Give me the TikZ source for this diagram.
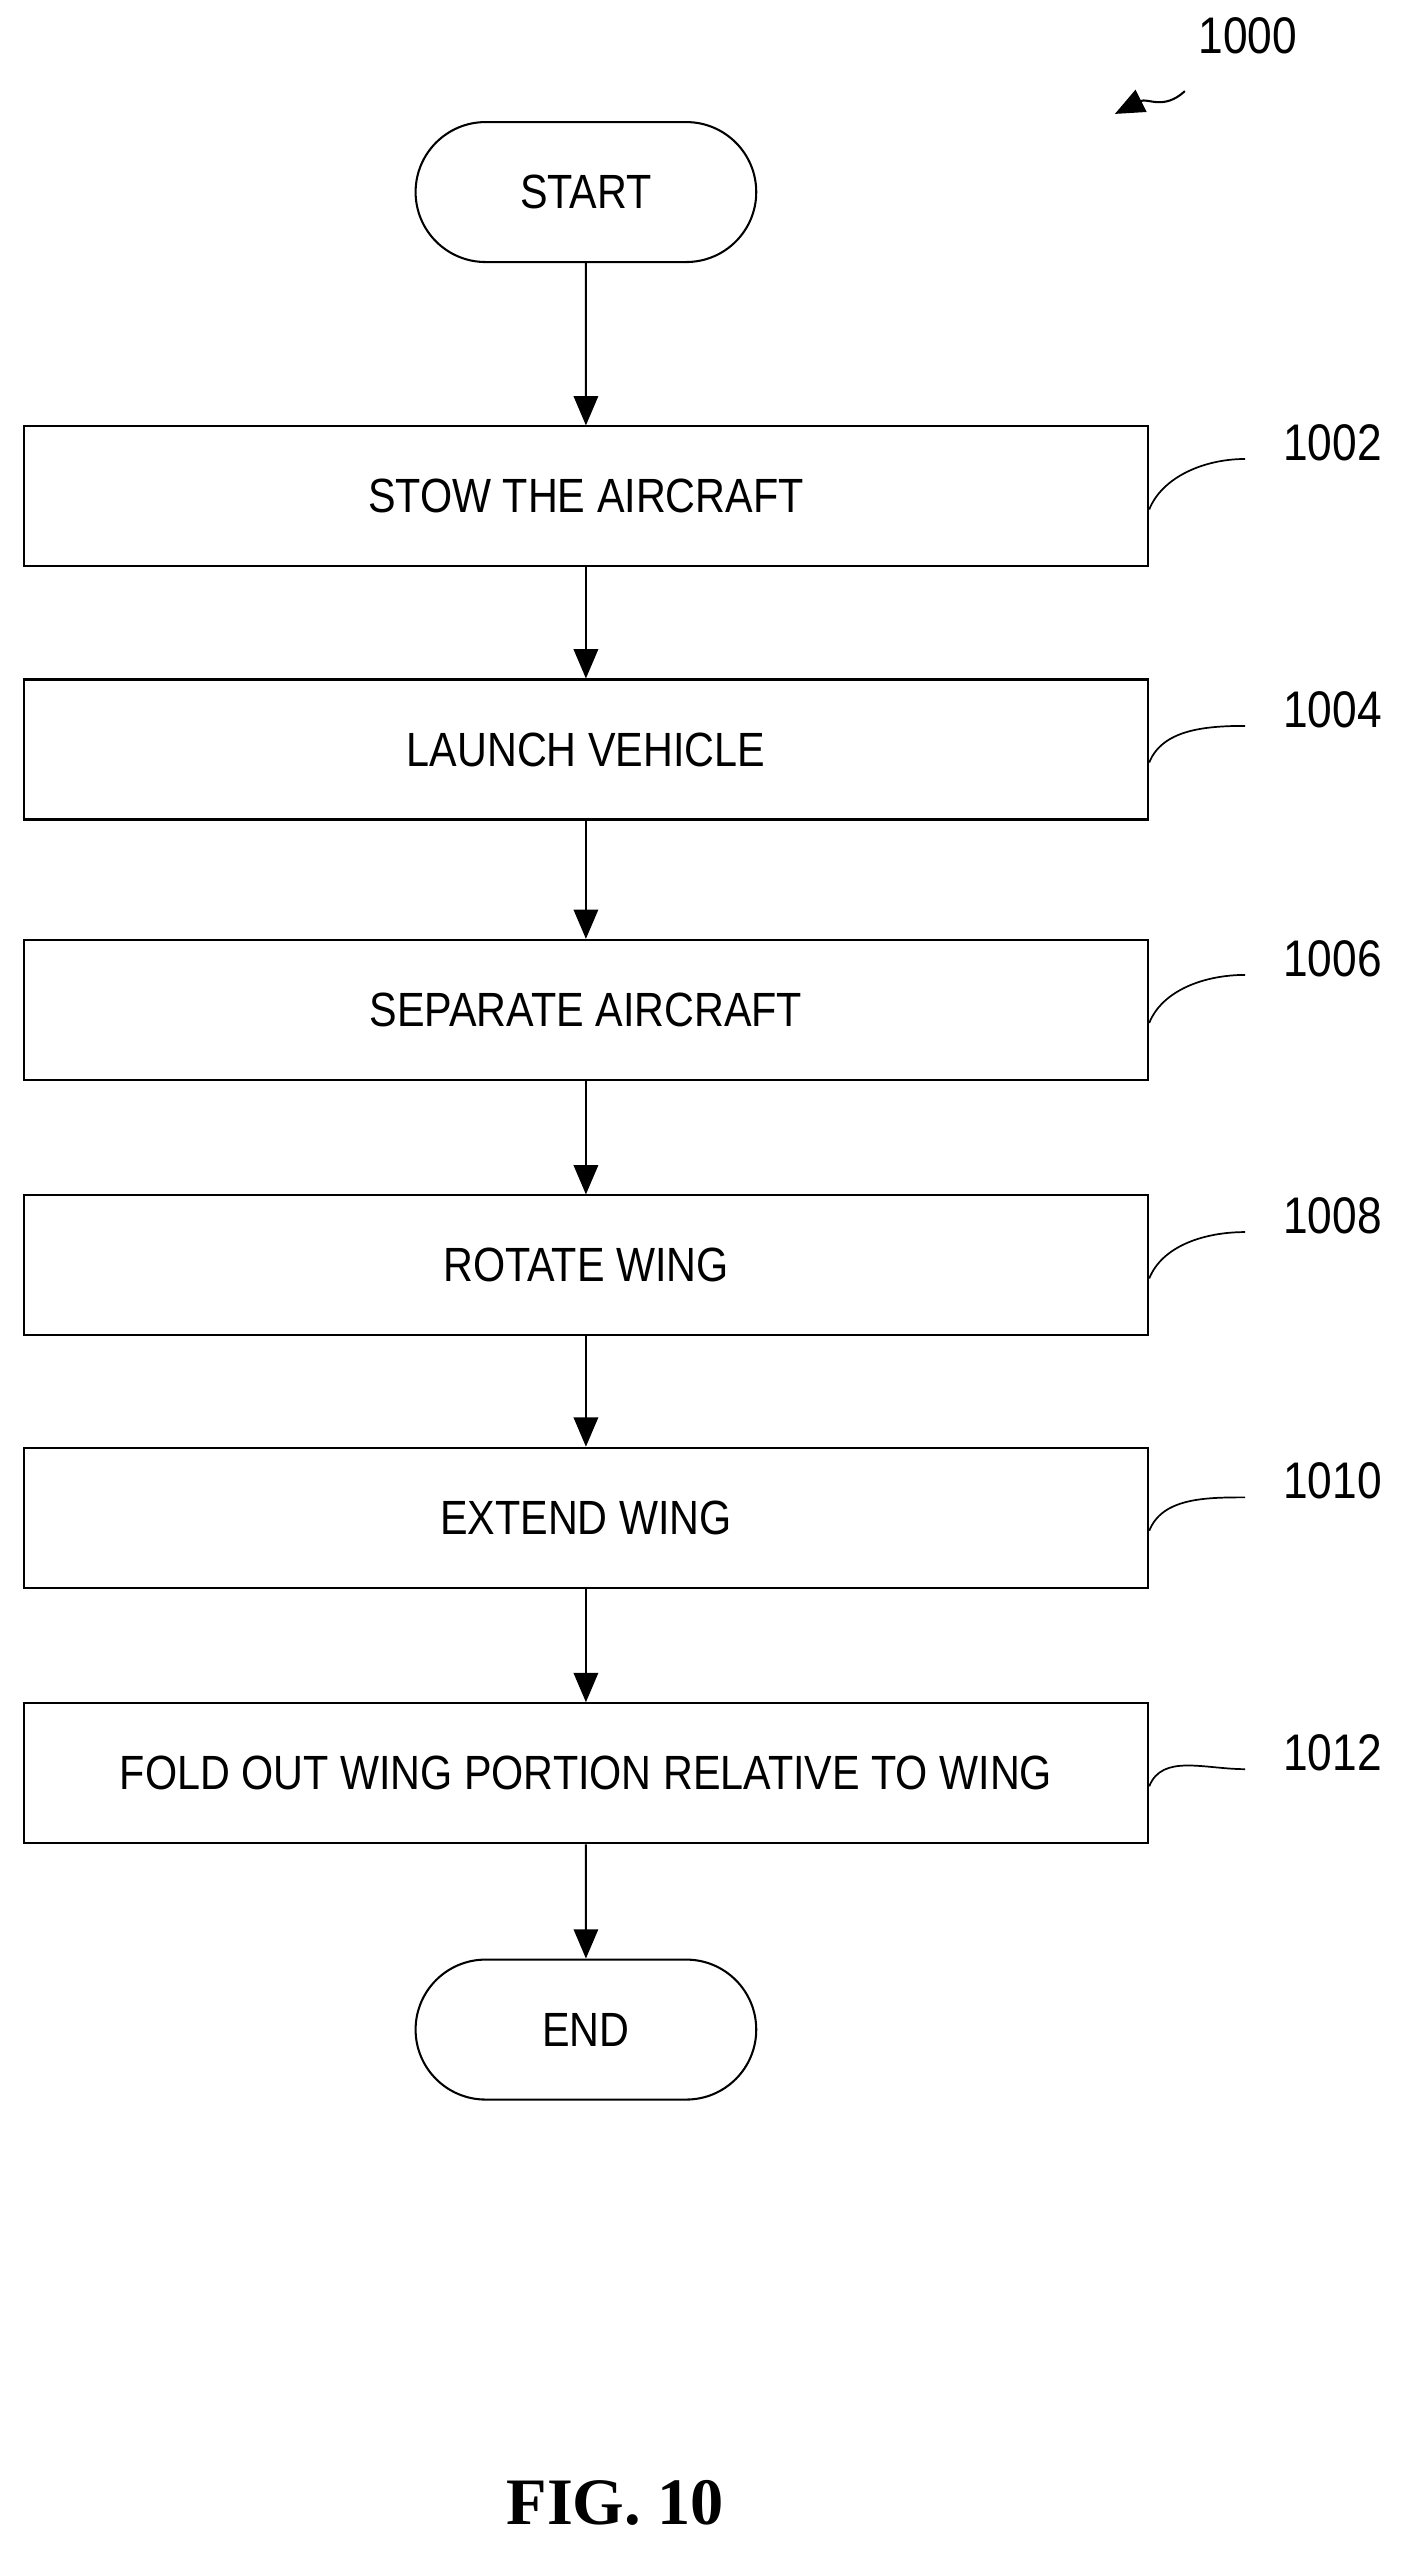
\documentclass[tikz,border=0pt]{standalone}
\usepackage{fontspec}
\setmainfont[FakeStretch=0.86]{Liberation Sans}
\newfontfamily\figfont{Liberation Serif}
\usetikzlibrary{shapes.misc, arrows.meta}

\tikzset{
  process/.style={draw, line width=1.8pt, minimum width=34.55cm, minimum height=4.3cm, font=\fontsize{42}{44}\selectfont},
  term/.style={draw, line width=1.8pt, rounded rectangle, minimum width=10.7cm, minimum height=4.3cm, font=\fontsize{42}{44}\selectfont},
  flow/.style={line width=1.8pt, -{Triangle[length=0.9cm, width=0.75cm]}},
  lead/.style={line width=1.5pt},
  refnum/.style={anchor=west, font=\fontsize{45}{47}\selectfont}
}

\begin{document}
\begin{tikzpicture}[x=0.05cm, y=-0.05cm]
  \useasboundingbox (0, 0) rectangle (870, 1568);

  % flow chart
  \node[term] (start) at (360, 118) {START};
  \node[process] (stow) at (360, 305) {STOW THE AIRCRAFT};
  \node[process] (launch) at (360, 460.5) {LAUNCH VEHICLE};
  \node[process] (separate) at (360, 620.5) {SEPARATE AIRCRAFT};
  \node[process] (rotate) at (360, 777.5) {ROTATE WING};
  \node[process] (extend) at (360, 932.5) {EXTEND WING};
  \node[process] (fold) at (360, 1089.5) {FOLD OUT WING PORTION RELATIVE TO WING};
  \node[term] (end) at (360, 1247) {END};

  \draw[flow] (start) -- (stow);
  \draw[flow] (stow) -- (launch);
  \draw[flow] (launch) -- (separate);
  \draw[flow] (separate) -- (rotate);
  \draw[flow] (rotate) -- (extend);
  \draw[flow] (extend) -- (fold);
  \draw[flow] (fold) -- (end);

  % reference numerals
  \foreach \stp/\num/\y in {stow/1002/272, launch/1004/436, separate/1006/589,
                            rotate/1008/747, extend/1010/910, fold/1012/1077} {
    \node[refnum] (n\num) at (786, \y) {\num};
    \coordinate (e\num) at (765, \y + 10);
    \draw[lead] ([yshift=-0.4cm]\stp.east) .. controls +(8, -20) and +(-25, 0) .. (e\num);
  }

  \node[refnum] (n1000) at (734, 22) {1000};
  \coordinate (a1000) at (728, 56);
  \coordinate (b1000) at (685, 70);
  \draw[flow] (a1000) .. controls (715, 68) and (705, 60) .. (b1000);

  \node[font=\figfont\bfseries\fontsize{58}{60}\selectfont] (fig) at (378, 1538) {FIG. 10};
\end{tikzpicture}
\end{document}
